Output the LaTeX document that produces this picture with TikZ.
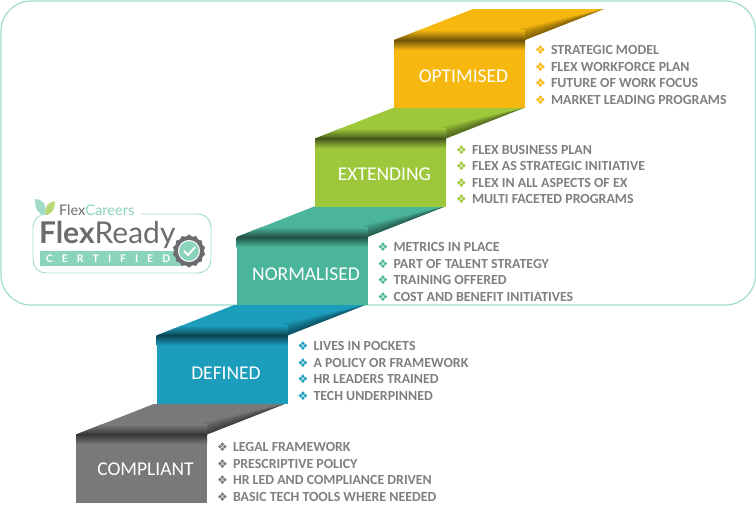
\documentclass[tikz,border=0pt]{standalone}
\usepackage{fontspec}
\setmainfont{Carlito}
\newfontfamily\logofont{Lato}
\newfontfamily\bulletfont{DejaVu Sans}
\usetikzlibrary{positioning,shapes.geometric,calc}
\definecolor{framecol}{HTML}{9FDCCD}
\definecolor{compliantcol}{HTML}{797979}
\definecolor{definedcol}{HTML}{1C9DBC}
\definecolor{normalisedcol}{HTML}{4BB59B}
\definecolor{extendingcol}{HTML}{9DC83C}
\definecolor{optimisedcol}{HTML}{F6B70F}
\definecolor{itemcol}{HTML}{7F7F7F}
\definecolor{logogrey}{HTML}{6B6C6F}
\definecolor{logoteal}{HTML}{8AD3BC}
\newcommand{\stepw}{131}
\newcommand{\riser}{10}
\newcommand{\itemrow}[2]{\makebox[16pt][l]{\bulletfont\fontsize{12}{12}\selectfont\textcolor{#1}{❖}}#2}
\newcommand{\itemrows}[5]{\itemrow{#1}{#2}\\\itemrow{#1}{#3}\\\itemrow{#1}{#4}\\\itemrow{#1}{#5}}
\tikzset{
    stepbox/.style = {minimum width=131pt, minimum height=68pt, inner sep=0pt, outer sep=0pt, text=white, font=\fontsize{19.5}{20}\selectfont},
    itemlist/.style = {align=left, inner sep=0pt, outer sep=0pt, text=itemcol, font=\fontsize{13.9}{16.5}\selectfont\bfseries},
    logotext/.style = {inner sep=0pt, outer sep=0pt, font=\logofont},
}
\begin{document}
\begin{tikzpicture}[x=1pt,y=-1pt]
    \useasboundingbox (0,0) rectangle (756,512);
    \draw[framecol, line width=1.2pt, rounded corners=30pt] (1,1) rectangle (755.5,305);
    % the stairs
    \foreach \name/\x/\y/\dy/\col/\lab in {compliant/141.5/468.5/6.5/compliantcol/COMPLIANT,
        defined/222/369.5/9.5/definedcol/DEFINED,
        normalised/302/271/9/normalisedcol/NORMALISED,
        extending/380.5/172.5/7.5/extendingcol/EXTENDING,
        optimised/459.5/74/8/optimisedcol/OPTIMISED}{
        \node[stepbox, fill=\col] (\name) at (\x,\y) {\hspace*{8pt}\raisebox{-\dy pt}[0pt][0pt]{\lab}};
        \begin{scope}
            \clip (\name.north west) -- ++(79,-31) -- ++(\stepw,0) -- (\name.north east) -- cycle;
            \fill[\col] (\name.north west) rectangle ++(210,-31);
            \foreach \w in {2,4,...,12}{
                \fill[black, opacity=.09] (\name.north east) -- ++(79,-31) -- ($(\name.north east)+(-.36*\w,-.93*\w)$) -- cycle;
            }
            \shade[top color=\col, bottom color=\col!45!black] ($(\name.north west)+(0,-\riser)$) rectangle (\name.north east);
        \end{scope}
        \shade[top color=\col!45!black, bottom color=\col] (\name.north west) rectangle ($(\name.north east)+(0,\riser)$);
    }
    % the lists
    \node[itemlist, right=10pt of optimised, yshift=-1pt] (optimisedlist) {\itemrows{optimisedcol}{STRATEGIC MODEL}{FLEX WORKFORCE PLAN}{FUTURE OF WORK FOCUS}{MARKET LEADING PROGRAMS}};
    \node[itemlist, right=10pt of extending, yshift=-2pt] (extendinglist) {\itemrows{extendingcol}{FLEX BUSINESS PLAN}{FLEX AS STRATEGIC INITIATIVE}{FLEX IN ALL ASPECTS OF EX}{MULTI FACETED PROGRAMS}};
    \node[itemlist, right=10pt of normalised, yshift=-1pt] (normalisedlist) {\itemrows{normalisedcol}{METRICS IN PLACE}{PART OF TALENT STRATEGY}{TRAINING OFFERED}{COST AND BENEFIT INITIATIVES}};
    \node[itemlist, right=10pt of defined, yshift=-1.5pt] (definedlist) {\itemrows{definedcol}{LIVES IN POCKETS}{A POLICY OR FRAMEWORK}{HR LEADERS TRAINED}{TECH UNDERPINNED}};
    \node[itemlist, right=10pt of compliant, yshift=-3.5pt] (compliantlist) {\itemrows{compliantcol}{LEGAL FRAMEWORK}{PRESCRIPTIVE POLICY}{HR LED AND COMPLIANCE DRIVEN}{BASIC TECH TOOLS WHERE NEEDED}};
    % the logo
    \draw[framecol, line width=.9pt, rounded corners=13pt] (141,214) -- (211,214) -- (211,273) -- (33,273) -- (33,214) -- (46,214);
    \fill[logoteal!80] (45.5,215) .. controls (37,215) and (35,207) .. (35,199) .. controls (42,199) and (47,203) .. (45.5,215);
    \fill[extendingcol!70] (46,215) .. controls (44,207) and (48,202) .. (55,201) .. controls (55,208) and (53,214) .. (46,215);
    \node[logotext, anchor=west, font=\logofont\fontsize{14.6}{15}\selectfont] (flexcareers) at (59,210.5) {\textcolor{logogrey}{Flex}\textcolor{logoteal}{Careers}};
    \node[logotext, anchor=west, text=logogrey, font=\logofont\fontsize{30}{31}\selectfont] (flexready) at (39,235) {\textbf{Flex}Ready};
    \fill[logoteal] (40,251) rectangle (182,266);
    \node[logotext, anchor=west, text=white, font=\logofont\bfseries\fontsize{10.5}{11}\selectfont] (certified) at (46,258.5) {C\hspace{9pt}E\hspace{9pt}R\hspace{9pt}T\hspace{9pt}I\hspace{9pt}F\hspace{9pt}I\hspace{9pt}E\hspace{9pt}D};
    \node[star, star points=14, star point ratio=1.12, fill=logogrey, minimum size=33pt, inner sep=0pt] (badge) at (189,251) {};
    \node[circle, draw=white, line width=1pt, fill=logoteal, minimum size=21pt, inner sep=0pt] (badgeface) at (badge.center) {};
    \draw[white, line width=1.8pt] ($(badgeface)+(-5,0)$) -- ($(badgeface)+(-1,4)$) -- ($(badgeface)+(6,-4)$);
\end{tikzpicture}
\end{document}
